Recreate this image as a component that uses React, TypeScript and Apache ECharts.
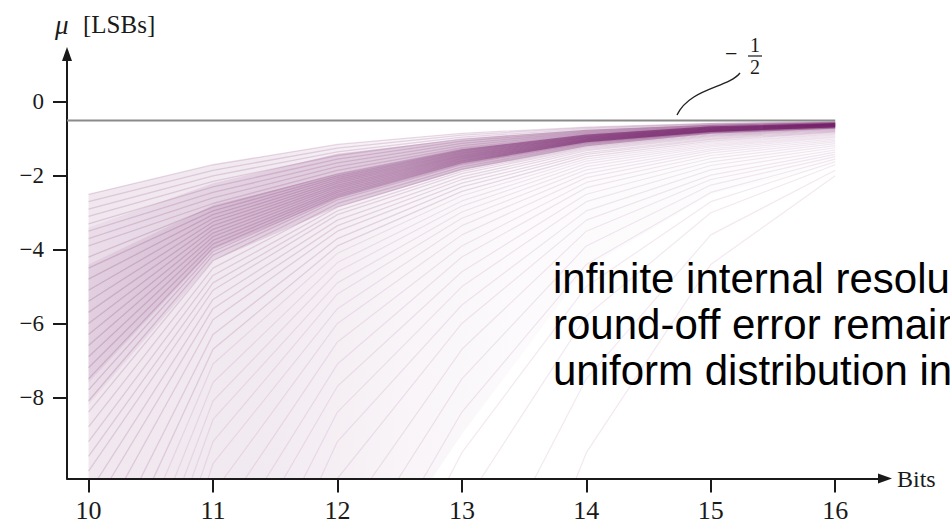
import React, { useEffect, useRef } from "react";
import * as echarts from "echarts";

// x positions (bits) at which every curve is sampled
const bits = [10, 11, 12, 13, 14, 15, 16];
const xTickValues = [10, 11, 12, 13, 14, 15, 16];
const yTickValues = [0, -2, -4, -6, -8];
const halfLsb = -0.5;
const halfLineEnd = 16;
const xMin = 9.827;
const xMax = 16.4;
const yMin = -10.2;
const yMax = 1.3;

// mean error curves (LSBs) at 10..16 bits
const upperLines = [
  [-2.5, -1.7, -1.15, -0.85, -0.68, -0.58, -0.53],
  [-2.7, -1.85, -1.25, -0.9, -0.7, -0.59, -0.54],
  [-2.9, -2.0, -1.35, -0.95, -0.73, -0.6, -0.55],
  [-3.1, -2.15, -1.45, -1.0, -0.76, -0.62, -0.55],
  [-3.3, -2.3, -1.55, -1.06, -0.79, -0.63, -0.56],
  [-3.5, -2.45, -1.65, -1.12, -0.82, -0.65, -0.57],
  [-3.7, -2.6, -1.75, -1.18, -0.85, -0.66, -0.58],
  [-3.9, -2.75, -1.85, -1.24, -0.88, -0.68, -0.59],
];

const coreLines = [
  [-4.2, -2.85, -1.95, -1.28, -0.9, -0.69, -0.6],
  [-4.5, -2.95, -2.0, -1.31, -0.92, -0.7, -0.6],
  [-4.8, -3.05, -2.05, -1.34, -0.93, -0.71, -0.61],
  [-5.1, -3.15, -2.1, -1.37, -0.95, -0.72, -0.61],
  [-5.4, -3.25, -2.15, -1.4, -0.96, -0.73, -0.62],
  [-5.7, -3.35, -2.2, -1.43, -0.98, -0.74, -0.62],
  [-6.0, -3.45, -2.25, -1.46, -0.99, -0.75, -0.63],
  [-6.3, -3.55, -2.3, -1.49, -1.01, -0.76, -0.64],
  [-6.6, -3.65, -2.35, -1.52, -1.02, -0.77, -0.64],
  [-6.9, -3.75, -2.4, -1.55, -1.04, -0.78, -0.65],
  [-7.2, -3.85, -2.45, -1.58, -1.05, -0.79, -0.66],
  [-7.5, -3.95, -2.5, -1.61, -1.07, -0.8, -0.66],
  [-7.8, -4.05, -2.55, -1.64, -1.08, -0.81, -0.67],
  [-8.1, -4.15, -2.6, -1.67, -1.1, -0.82, -0.68],
];

const lowerLines = [
  [-8.4, -4.3, -2.65, -1.7, -1.12, -0.83, -0.69],
  [-8.8, -4.5, -2.75, -1.76, -1.15, -0.85, -0.7],
  [-9.2, -4.7, -2.85, -1.82, -1.18, -0.87, -0.71],
  [-9.6, -4.9, -2.95, -1.88, -1.21, -0.89, -0.72],
  [-10.0, -5.1, -3.05, -1.94, -1.24, -0.91, -0.73],
  [-10.6, -5.35, -3.2, -2.02, -1.28, -0.93, -0.75],
  [-11.2, -5.6, -3.35, -2.1, -1.32, -0.96, -0.76],
  [-12, -5.9, -3.5, -2.2, -1.37, -0.99, -0.78],
  [-13, -6.3, -3.7, -2.3, -1.42, -1.02, -0.8],
  [-14, -6.7, -3.9, -2.42, -1.48, -1.06, -0.82],
];

const faintLines = [
  [-15, -7.1, -4.1, -2.54, -1.54, -1.1, -0.85],
  [-16, -7.6, -4.35, -2.68, -1.6, -1.14, -0.87],
  [-17, -8.1, -4.6, -2.82, -1.67, -1.18, -0.9],
  [-18, -8.6, -4.9, -2.98, -1.75, -1.22, -0.93],
  [-19, -9.2, -5.2, -3.15, -1.84, -1.27, -0.96],
  [-20, -9.8, -5.6, -3.35, -1.94, -1.32, -1.0],
  [-22, -10.6, -6.0, -3.6, -2.05, -1.38, -1.04],
  [-24, -11.5, -6.5, -3.9, -2.18, -1.45, -1.08],
  [-26, -12.5, -7.1, -4.2, -2.32, -1.53, -1.13],
  [-28, -13.5, -7.7, -4.6, -2.5, -1.62, -1.18],
  [-30, -15, -8.4, -5.0, -2.7, -1.72, -1.24],
  [-33, -16.5, -9.2, -5.5, -2.95, -1.84, -1.3],
  [-36, -18, -10.2, -6.0, -3.2, -1.98, -1.36],
  [-40, -20, -11.5, -6.7, -3.5, -2.1, -1.42],
  [-44, -22, -12.8, -7.5, -3.9, -2.25, -1.48],
  [-48, -24, -14.2, -8.4, -4.4, -2.45, -1.55],
  [-52, -26, -16, -9.5, -5.0, -2.7, -1.62],
  [-56, -28, -18, -11, -5.8, -3.0, -1.7],
  [-60, -32, -22, -14, -7.5, -3.6, -1.85],
  [-64, -36, -26, -18, -9.5, -4.4, -2.0],
];

// shaded density bands (top / bottom edges at 10..16 bits)
const washTop = [-2.5, -1.7, -1.15, -0.85, -0.68, -0.58, -0.53];
const washBottom = [-30, -20, -14, -9, -4.5, -2.5, -1.7];
const wedgeTop = [-3.4, -2.2, -1.4, -1.0, -0.75, -0.62, -0.55];
const wedgeBottom = [-8.2, -4.3, -2.85, -1.85, -1.2, -0.86, -0.72];
const coreTop = [-4.4, -2.8, -1.95, -1.28, -0.88, -0.66, -0.57];
const coreBottom = [-7.6, -4.0, -2.6, -1.66, -1.09, -0.81, -0.69];

// band strength from 10 bits (offset 0) to 16 bits (offset 1)
const shadeOffsets = [0, 0.25, 0.42, 0.58, 0.75, 1];
const washAlpha = [0.1, 0.085, 0.045, 0.02, 0.015, 0.01];
const wedgeAlpha = [0.045, 0.13, 0.18, 0.25, 0.32, 0.36];
const coreAlpha = [0.07, 0.13, 0.18, 0.35, 0.5, 0.6];

const annotationText = ["infinite internal resolu", "round-off error remain", "uniform distribution in"];

const PURPLE = "#6b0f5f";
const PURPLE_RGB = "107, 15, 95";
const INK = "#1a1a1a";
const SERIF = '"Liberation Serif", "Times New Roman", serif';

const fmt = (v: number) => (v < 0 ? "\u2212" + Math.abs(v) : String(v));

export default function App() {
  const ref = useRef<HTMLDivElement>(null);
  useEffect(() => {
    if (!ref.current) return;
    const chart = echarts.init(ref.current, undefined, { renderer: "svg" });

    const gradient = (alphas: number[]) =>
      new echarts.graphic.LinearGradient(
        0,
        0,
        1,
        0,
        shadeOffsets.map((o, i) => ({ offset: o, color: `rgba(${PURPLE_RGB}, ${alphas[i]})` }))
      );

    const bands = [
      { top: washTop, bottom: washBottom, alphas: washAlpha },
      { top: wedgeTop, bottom: wedgeBottom, alphas: wedgeAlpha },
      { top: coreTop, bottom: coreBottom, alphas: coreAlpha },
    ];

    const makeLines = (rows: number[][], opacity: number, width: number) =>
      rows.map((row) => ({
        type: "line",
        data: bits.map((b, i) => [b, row[i]]),
        symbol: "none",
        showSymbol: false,
        silent: true,
        clip: true,
        emphasis: { disabled: true },
        lineStyle: { color: PURPLE, width, opacity },
        z: 2,
      }));

    const series: any[] = [
      {
        type: "custom",
        silent: true,
        z: 1,
        data: bands.map((_, i) => [i]),
        renderItem: (params: any, api: any) => {
          const band = bands[params.dataIndex];
          const topPts = bits.map((b, i) => api.coord([b, band.top[i]]));
          const botPts = bits.map((b, i) => api.coord([b, band.bottom[i]])).reverse();
          const cs = params.coordSys;
          return {
            type: "polygon",
            shape: { points: topPts.concat(botPts) },
            style: { fill: gradient(band.alphas) },
            clipPath: { type: "rect", shape: { x: cs.x, y: cs.y, width: cs.width, height: cs.height } },
          };
        },
      },
      ...makeLines(upperLines, 0.15, 1.3),
      ...makeLines(coreLines, 0.17, 1.3),
      ...makeLines(lowerLines, 0.14, 1.3),
      ...makeLines(faintLines, 0.09, 1.2),
      {
        type: "line",
        data: [
          [xMin, halfLsb],
          [halfLineEnd, halfLsb],
        ],
        symbol: "none",
        silent: true,
        emphasis: { disabled: true },
        lineStyle: { color: "#8a8a8a", width: 2 },
        z: 3,
      },
    ];

    chart.setOption({
      animation: false,
      backgroundColor: "#ffffff",
      grid: { left: 67, right: 65, top: 54, bottom: 45.5, containLabel: false, outerBoundsMode: "none" },
      xAxis: {
        type: "value",
        min: xMin,
        max: xMax,
        name: "Bits",
        nameLocation: "end",
        nameGap: 12,
        nameTextStyle: { fontFamily: SERIF, fontSize: 24, color: INK, verticalAlign: "middle" },
        axisLine: {
          show: true,
          onZero: false,
          symbol: ["none", "triangle"],
          symbolSize: [10, 14],
          lineStyle: { color: INK, width: 2 },
        },
        axisTick: { show: true, length: 14, lineStyle: { color: INK, width: 2 }, customValues: xTickValues },
        axisLabel: {
          customValues: xTickValues,
          fontFamily: SERIF,
          fontSize: 26,
          color: INK,
          margin: 19,
          formatter: fmt,
        },
        splitLine: { show: false },
      },
      yAxis: {
        type: "value",
        min: yMin,
        max: yMax,
        axisLine: {
          show: true,
          onZero: false,
          symbol: ["none", "triangle"],
          symbolSize: [10, 14],
          lineStyle: { color: INK, width: 2 },
        },
        axisTick: { show: true, length: 14, lineStyle: { color: INK, width: 2 }, customValues: yTickValues },
        axisLabel: {
          customValues: yTickValues,
          fontFamily: SERIF,
          fontSize: 23,
          color: INK,
          margin: 23,
          formatter: fmt,
        },
        splitLine: { show: false },
      },
      graphic: [
        {
          type: "text",
          x: 55,
          y: 11,
          style: { text: "\u03bc", fontFamily: SERIF, fontStyle: "italic", fontSize: 27, fill: INK, align: "left", verticalAlign: "top" },
        },
        {
          type: "text",
          x: 83,
          y: 12,
          style: { text: "[LSBs]", fontFamily: SERIF, fontSize: 25, fill: INK, align: "left", verticalAlign: "top" },
        },
        {
          type: "text",
          x: 725,
          y: 42,
          style: { text: "\u2212", fontFamily: SERIF, fontSize: 22, fill: INK, align: "left", verticalAlign: "top" },
        },
        {
          type: "text",
          x: 755,
          y: 35,
          style: { text: "1", fontFamily: SERIF, fontSize: 20, fill: INK, align: "center", verticalAlign: "top" },
        },
        {
          type: "line",
          shape: { x1: 748, y1: 56, x2: 762, y2: 56 },
          style: { stroke: INK, lineWidth: 1.2 },
        },
        {
          type: "text",
          x: 755,
          y: 57,
          style: { text: "2", fontFamily: SERIF, fontSize: 20, fill: INK, align: "center", verticalAlign: "top" },
        },
        {
          type: "bezierCurve",
          shape: { x1: 740, y1: 73, cpx1: 728, cpy1: 88, cpx2: 690, cpy2: 88, x2: 677, y2: 115 },
          style: { stroke: "#222", lineWidth: 1.4, fill: null },
        },
        {
          type: "text",
          x: 553,
          y: 255,
          z: 10,
          style: {
            text: annotationText.join("\n"),
            fontFamily: '"Liberation Sans", Arial, sans-serif',
            fontSize: 42,
            lineHeight: 46,
            fill: "#000",
            align: "left",
            verticalAlign: "top",
          },
        },
      ],
      series,
    });
    return () => chart.dispose();
  }, []);
  return <div ref={ref} style={{ position: "fixed", left: 0, top: 0, width: 950, height: 524 }} />;
}
